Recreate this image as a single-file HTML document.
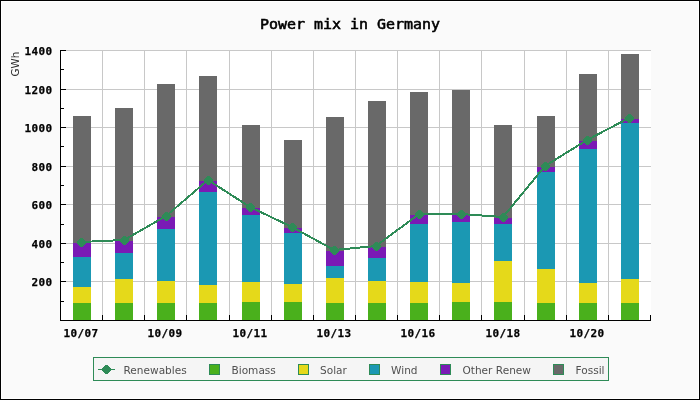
<!DOCTYPE html>
<html><head><meta charset="utf-8"><title>Power mix in Germany</title>
<style>html,body{margin:0;padding:0;background:#fff}svg{display:block}</style></head>
<body>
<svg width="700" height="400" viewBox="0 0 700 400">
<rect x="0" y="0" width="700" height="400" fill="#000" shape-rendering="crispEdges"/>
<rect x="1" y="1" width="698" height="398" fill="#fff" shape-rendering="crispEdges"/>
<rect x="2" y="2" width="696" height="396" fill="#fafafa" shape-rendering="crispEdges"/>
<rect x="60" y="50" width="591" height="270" fill="#fff" shape-rendering="crispEdges"/>
<g fill="#c8c8c8" shape-rendering="crispEdges"><rect x="102" y="50" width="1" height="270"/><rect x="144" y="50" width="1" height="270"/><rect x="186" y="50" width="1" height="270"/><rect x="229" y="50" width="1" height="270"/><rect x="271" y="50" width="1" height="270"/><rect x="313" y="50" width="1" height="270"/><rect x="355" y="50" width="1" height="270"/><rect x="397" y="50" width="1" height="270"/><rect x="439" y="50" width="1" height="270"/><rect x="481" y="50" width="1" height="270"/><rect x="524" y="50" width="1" height="270"/><rect x="566" y="50" width="1" height="270"/><rect x="608" y="50" width="1" height="270"/><rect x="60" y="281" width="591" height="1"/><rect x="60" y="243" width="591" height="1"/><rect x="60" y="204" width="591" height="1"/><rect x="60" y="166" width="591" height="1"/><rect x="60" y="127" width="591" height="1"/><rect x="60" y="89" width="591" height="1"/><rect x="60" y="50" width="591" height="1"/></g>
<g shape-rendering="crispEdges"><rect x="73" y="116" width="18" height="127" fill="#696969"/><rect x="73" y="243" width="18" height="14" fill="#7a1ab5"/><rect x="73" y="257" width="18" height="30" fill="#1b98b3"/><rect x="73" y="287" width="18" height="16" fill="#e5d91a"/><rect x="73" y="303" width="18" height="17" fill="#4ab01c"/><rect x="115" y="108" width="18" height="133" fill="#696969"/><rect x="115" y="241" width="18" height="12" fill="#7a1ab5"/><rect x="115" y="253" width="18" height="26" fill="#1b98b3"/><rect x="115" y="279" width="18" height="24" fill="#e5d91a"/><rect x="115" y="303" width="18" height="17" fill="#4ab01c"/><rect x="157" y="84" width="18" height="133" fill="#696969"/><rect x="157" y="217" width="18" height="12" fill="#7a1ab5"/><rect x="157" y="229" width="18" height="52" fill="#1b98b3"/><rect x="157" y="281" width="18" height="22" fill="#e5d91a"/><rect x="157" y="303" width="18" height="17" fill="#4ab01c"/><rect x="199" y="76" width="18" height="105" fill="#696969"/><rect x="199" y="181" width="18" height="11" fill="#7a1ab5"/><rect x="199" y="192" width="18" height="93" fill="#1b98b3"/><rect x="199" y="285" width="18" height="18" fill="#e5d91a"/><rect x="199" y="303" width="18" height="17" fill="#4ab01c"/><rect x="242" y="125" width="18" height="83" fill="#696969"/><rect x="242" y="208" width="18" height="7" fill="#7a1ab5"/><rect x="242" y="215" width="18" height="67" fill="#1b98b3"/><rect x="242" y="282" width="18" height="20" fill="#e5d91a"/><rect x="242" y="302" width="18" height="18" fill="#4ab01c"/><rect x="284" y="140" width="18" height="88" fill="#696969"/><rect x="284" y="228" width="18" height="5" fill="#7a1ab5"/><rect x="284" y="233" width="18" height="51" fill="#1b98b3"/><rect x="284" y="284" width="18" height="18" fill="#e5d91a"/><rect x="284" y="302" width="18" height="18" fill="#4ab01c"/><rect x="326" y="117" width="18" height="134" fill="#696969"/><rect x="326" y="251" width="18" height="15" fill="#7a1ab5"/><rect x="326" y="266" width="18" height="12" fill="#1b98b3"/><rect x="326" y="278" width="18" height="25" fill="#e5d91a"/><rect x="326" y="303" width="18" height="17" fill="#4ab01c"/><rect x="368" y="101" width="18" height="146" fill="#696969"/><rect x="368" y="247" width="18" height="11" fill="#7a1ab5"/><rect x="368" y="258" width="18" height="23" fill="#1b98b3"/><rect x="368" y="281" width="18" height="22" fill="#e5d91a"/><rect x="368" y="303" width="18" height="17" fill="#4ab01c"/><rect x="410" y="92" width="18" height="123" fill="#696969"/><rect x="410" y="215" width="18" height="9" fill="#7a1ab5"/><rect x="410" y="224" width="18" height="58" fill="#1b98b3"/><rect x="410" y="282" width="18" height="21" fill="#e5d91a"/><rect x="410" y="303" width="18" height="17" fill="#4ab01c"/><rect x="452" y="90" width="18" height="125" fill="#696969"/><rect x="452" y="215" width="18" height="7" fill="#7a1ab5"/><rect x="452" y="222" width="18" height="61" fill="#1b98b3"/><rect x="452" y="283" width="18" height="19" fill="#e5d91a"/><rect x="452" y="302" width="18" height="18" fill="#4ab01c"/><rect x="494" y="125" width="18" height="93" fill="#696969"/><rect x="494" y="218" width="18" height="6" fill="#7a1ab5"/><rect x="494" y="224" width="18" height="37" fill="#1b98b3"/><rect x="494" y="261" width="18" height="41" fill="#e5d91a"/><rect x="494" y="302" width="18" height="18" fill="#4ab01c"/><rect x="537" y="116" width="18" height="51" fill="#696969"/><rect x="537" y="167" width="18" height="5" fill="#7a1ab5"/><rect x="537" y="172" width="18" height="97" fill="#1b98b3"/><rect x="537" y="269" width="18" height="34" fill="#e5d91a"/><rect x="537" y="303" width="18" height="17" fill="#4ab01c"/><rect x="579" y="74" width="18" height="67" fill="#696969"/><rect x="579" y="141" width="18" height="8" fill="#7a1ab5"/><rect x="579" y="149" width="18" height="134" fill="#1b98b3"/><rect x="579" y="283" width="18" height="20" fill="#e5d91a"/><rect x="579" y="303" width="18" height="17" fill="#4ab01c"/><rect x="621" y="54" width="18" height="65" fill="#696969"/><rect x="621" y="119" width="18" height="4" fill="#7a1ab5"/><rect x="621" y="123" width="18" height="156" fill="#1b98b3"/><rect x="621" y="279" width="18" height="24" fill="#e5d91a"/><rect x="621" y="303" width="18" height="17" fill="#4ab01c"/></g>
<g fill="#000" shape-rendering="crispEdges"><rect x="60" y="50" width="1" height="271"/><rect x="60" y="320" width="591" height="1"/><rect x="60" y="301" width="4" height="1"/><rect x="60" y="281" width="6" height="1"/><rect x="60" y="262" width="4" height="1"/><rect x="60" y="243" width="6" height="1"/><rect x="60" y="224" width="4" height="1"/><rect x="60" y="204" width="6" height="1"/><rect x="60" y="185" width="4" height="1"/><rect x="60" y="166" width="6" height="1"/><rect x="60" y="146" width="4" height="1"/><rect x="60" y="127" width="6" height="1"/><rect x="60" y="108" width="4" height="1"/><rect x="60" y="89" width="6" height="1"/><rect x="60" y="69" width="4" height="1"/><rect x="60" y="50" width="6" height="1"/><rect x="102" y="315" width="1" height="5"/><rect x="144" y="315" width="1" height="5"/><rect x="186" y="315" width="1" height="5"/><rect x="229" y="315" width="1" height="5"/><rect x="271" y="315" width="1" height="5"/><rect x="313" y="315" width="1" height="5"/><rect x="355" y="315" width="1" height="5"/><rect x="397" y="315" width="1" height="5"/><rect x="439" y="315" width="1" height="5"/><rect x="481" y="315" width="1" height="5"/><rect x="524" y="315" width="1" height="5"/><rect x="566" y="315" width="1" height="5"/><rect x="608" y="315" width="1" height="5"/><rect x="650" y="315" width="1" height="5"/></g>
<polyline fill="none" stroke="#2e8b57" stroke-width="2" stroke-linejoin="round" shape-rendering="crispEdges" points="81,242 124,240 166,216 208,180 250,207 292,227 334,250 376,246 419,214 461,214 503,217 545,166 587,140 629,118"/>
<g fill="#2e8b57" shape-rendering="crispEdges"><path d="M80.0 238.0h3.0v9.0h-3.0zM79.0 239.0h5.0v7.0h-5.0zM78.0 240.0h7.0v5.0h-7.0zM77.0 241.0h9.0v3.0h-9.0z"/><path d="M123.0 236.0h3.0v9.0h-3.0zM122.0 237.0h5.0v7.0h-5.0zM121.0 238.0h7.0v5.0h-7.0zM120.0 239.0h9.0v3.0h-9.0z"/><path d="M165.0 212.0h3.0v9.0h-3.0zM164.0 213.0h5.0v7.0h-5.0zM163.0 214.0h7.0v5.0h-7.0zM162.0 215.0h9.0v3.0h-9.0z"/><path d="M207.0 176.0h3.0v9.0h-3.0zM206.0 177.0h5.0v7.0h-5.0zM205.0 178.0h7.0v5.0h-7.0zM204.0 179.0h9.0v3.0h-9.0z"/><path d="M249.0 203.0h3.0v9.0h-3.0zM248.0 204.0h5.0v7.0h-5.0zM247.0 205.0h7.0v5.0h-7.0zM246.0 206.0h9.0v3.0h-9.0z"/><path d="M291.0 223.0h3.0v9.0h-3.0zM290.0 224.0h5.0v7.0h-5.0zM289.0 225.0h7.0v5.0h-7.0zM288.0 226.0h9.0v3.0h-9.0z"/><path d="M333.0 246.0h3.0v9.0h-3.0zM332.0 247.0h5.0v7.0h-5.0zM331.0 248.0h7.0v5.0h-7.0zM330.0 249.0h9.0v3.0h-9.0z"/><path d="M375.0 242.0h3.0v9.0h-3.0zM374.0 243.0h5.0v7.0h-5.0zM373.0 244.0h7.0v5.0h-7.0zM372.0 245.0h9.0v3.0h-9.0z"/><path d="M418.0 210.0h3.0v9.0h-3.0zM417.0 211.0h5.0v7.0h-5.0zM416.0 212.0h7.0v5.0h-7.0zM415.0 213.0h9.0v3.0h-9.0z"/><path d="M460.0 210.0h3.0v9.0h-3.0zM459.0 211.0h5.0v7.0h-5.0zM458.0 212.0h7.0v5.0h-7.0zM457.0 213.0h9.0v3.0h-9.0z"/><path d="M502.0 213.0h3.0v9.0h-3.0zM501.0 214.0h5.0v7.0h-5.0zM500.0 215.0h7.0v5.0h-7.0zM499.0 216.0h9.0v3.0h-9.0z"/><path d="M544.0 162.0h3.0v9.0h-3.0zM543.0 163.0h5.0v7.0h-5.0zM542.0 164.0h7.0v5.0h-7.0zM541.0 165.0h9.0v3.0h-9.0z"/><path d="M586.0 136.0h3.0v9.0h-3.0zM585.0 137.0h5.0v7.0h-5.0zM584.0 138.0h7.0v5.0h-7.0zM583.0 139.0h9.0v3.0h-9.0z"/><path d="M628.0 114.0h3.0v9.0h-3.0zM627.0 115.0h5.0v7.0h-5.0zM626.0 116.0h7.0v5.0h-7.0zM625.0 117.0h9.0v3.0h-9.0z"/></g>
<g font-family="'DejaVu Sans Mono', 'Liberation Mono', monospace" font-weight="bold" font-size="11px" letter-spacing="0.38" fill="#000" stroke="#000" stroke-width="0.25"><text x="31.5" y="285.5">200</text><text x="31.5" y="247.5">400</text><text x="31.5" y="208.5">600</text><text x="31.5" y="170.5">800</text><text x="24.5" y="131.5">1000</text><text x="24.5" y="93.5">1200</text><text x="24.5" y="54.5">1400</text><text x="63.5" y="337">10/07</text><text x="147.5" y="337">10/09</text><text x="232.5" y="337">10/11</text><text x="316.5" y="337">10/13</text><text x="400.5" y="337">10/16</text><text x="485.5" y="337">10/18</text><text x="569.5" y="337">10/20</text></g>
<text transform="translate(260,29) scale(1.092,1)" font-family="'DejaVu Sans Mono', 'Liberation Mono', monospace" font-size="13.7px" fill="#000" stroke="#000" stroke-width="0.55" xml:space="preserve">Power mix in Germany</text>
<text transform="translate(19,76.4) rotate(-90)" font-family="'DejaVu Sans', 'Liberation Sans', sans-serif" font-size="10.3px" fill="#2c2c2c">GWh</text>
<rect x="93.5" y="357.5" width="515" height="23" fill="#f5f5f5" stroke="#2e8b57" stroke-width="1" shape-rendering="crispEdges"/>
<rect x="98" y="369" width="17" height="1" fill="#2e8b57" shape-rendering="crispEdges"/>
<g fill="#2e8b57" shape-rendering="crispEdges"><path d="M105.0 365.0h3.0v9.0h-3.0zM104.0 366.0h5.0v7.0h-5.0zM103.0 367.0h7.0v5.0h-7.0zM102.0 368.0h9.0v3.0h-9.0z"/></g>
<rect x="209.5" y="364.5" width="10" height="10" fill="#4ab01c" stroke="#2e8b57" stroke-width="1" shape-rendering="crispEdges"/>
<rect x="298.5" y="364.5" width="10" height="10" fill="#e5d91a" stroke="#2e8b57" stroke-width="1" shape-rendering="crispEdges"/>
<rect x="369.5" y="364.5" width="10" height="10" fill="#1b98b3" stroke="#2e8b57" stroke-width="1" shape-rendering="crispEdges"/>
<rect x="440.5" y="364.5" width="10" height="10" fill="#7a1ab5" stroke="#2e8b57" stroke-width="1" shape-rendering="crispEdges"/>
<rect x="553.5" y="364.5" width="10" height="10" fill="#696969" stroke="#2e8b57" stroke-width="1" shape-rendering="crispEdges"/>
<g font-family="'DejaVu Sans', 'Liberation Sans', sans-serif" font-size="10.55px" fill="#505050"><text x="123.5" y="374">Renewables</text><text x="231.5" y="374">Biomass</text><text x="320" y="374">Solar</text><text x="391" y="374">Wind</text><text x="462.5" y="374">Other Renew</text><text x="575.5" y="374">Fossil</text></g>
</svg>
</body></html>
